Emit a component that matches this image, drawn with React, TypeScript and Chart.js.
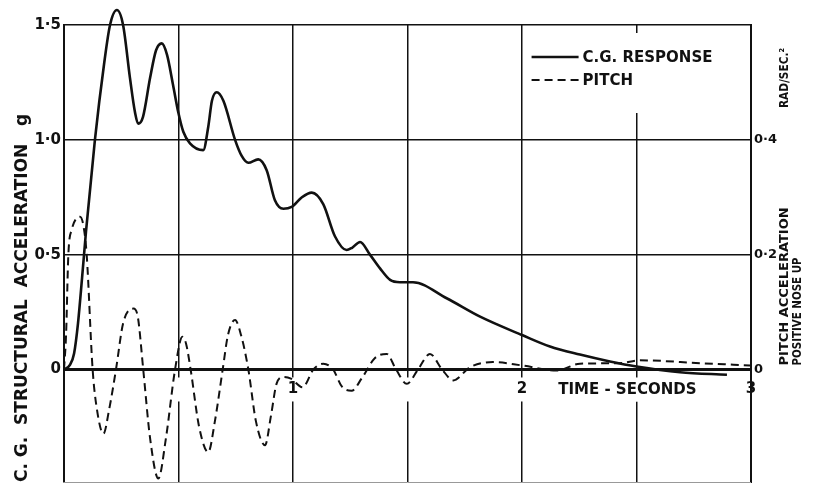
import { useEffect, useRef } from "react";
import { Chart, registerables } from "chart.js";

Chart.register(...registerables);

// C.G. structural acceleration (g) against time (s)
const cgTime = [
  0, 0.026, 0.044, 0.061, 0.079, 0.096, 0.135, 0.175, 0.201, 0.231, 0.258, 0.288, 0.31, 0.324,
  0.345, 0.376, 0.402, 0.427, 0.45, 0.476, 0.499, 0.521, 0.55, 0.608, 0.63, 0.646, 0.667, 0.696,
  0.747, 0.776, 0.805, 0.848, 0.885, 0.921, 0.958, 0.994, 1.039, 1.082, 1.132, 1.183, 1.234,
  1.258, 1.293, 1.336, 1.38, 1.424, 1.467, 1.524, 1.671, 1.817, 2.0, 2.122, 2.253, 2.384, 2.5,
  2.69, 2.895,
];
const cgAccel = [
  0, 0.02, 0.07, 0.2, 0.4, 0.6, 1.0, 1.33, 1.5, 1.565, 1.5, 1.27, 1.12, 1.07,
  1.1, 1.27, 1.39, 1.42, 1.37, 1.24, 1.12, 1.035, 0.985, 0.955, 1.057, 1.17, 1.207, 1.17,
  1.0, 0.93, 0.9, 0.915, 0.868, 0.737, 0.7, 0.708, 0.75, 0.77, 0.72, 0.58, 0.52,
  0.53, 0.555, 0.5, 0.44, 0.39, 0.38, 0.38, 0.31, 0.23, 0.15, 0.1, 0.065, 0.035, 0.013,
  -0.012, -0.023,
];

// Pitch acceleration (rad/sec²) against time (s)
const pitchTime = [
  0, 0.009, 0.019, 0.035, 0.052, 0.07, 0.085, 0.099, 0.125, 0.144, 0.172, 0.197, 0.227, 0.258,
  0.303, 0.323, 0.346, 0.376, 0.412, 0.445, 0.485, 0.517, 0.533, 0.553, 0.59, 0.63, 0.659,
  0.693, 0.716, 0.747, 0.773, 0.805, 0.838, 0.878, 0.904, 0.928, 0.957, 0.991, 1.042, 1.089,
  1.132, 1.175, 1.214, 1.256, 1.301, 1.358, 1.409, 1.45, 1.497, 1.546, 1.598, 1.651, 1.7,
  1.773, 1.873, 2.0, 2.151, 2.253, 2.428, 2.515, 2.777, 2.996,
];
const pitchAccel = [
  0, 0.06, 0.2, 0.245, 0.262, 0.266, 0.25, 0.2, 0.0, -0.07, -0.112, -0.07, 0.0, 0.08,
  0.106, 0.09, 0.0, -0.12, -0.19, -0.12, 0.0, 0.057, 0.045, 0.0, -0.1, -0.144, -0.09,
  0.0, 0.06, 0.086, 0.06, 0.0, -0.09, -0.132, -0.08, -0.025, -0.013, -0.016, -0.031, 0.0,
  0.01, 0.0, -0.03, -0.037, -0.015, 0.02, 0.027, 0.0, -0.025, 0.0, 0.027, 0.0, -0.019,
  0.004, 0.013, 0.007, -0.002, 0.01, 0.011, 0.016, 0.011, 0.007,
];

// Axis ticks and their lettering
const accelTicks = [0, 0.5, 1.0, 1.5];
const accelTickLabels = ["0", "0·5", "1·0", "1·5"];
const pitchTicks = [0, 0.2, 0.4];
const pitchTickLabels = ["0", "0·2", "0·4"];
const timeTicks = [1, 2, 3];
const timeTickLabels = ["1", "2", "3"];

const ACCEL_MIN = -0.49;
const ACCEL_MAX = 1.5;
const PITCH_PER_G = 0.4; // 0·2 rad/sec² on the right sits level with 0·5 g on the left

const FONT = "'DejaVu Sans', sans-serif";
const INK = "#111";

const toPoints = (xs: number[], ys: number[]) => xs.map((x, i) => ({ x, y: ys[i] }));

// fixed-width vertical axes, with no extra room reserved for end labels
const fixVertical = (s: any) => {
  s.width = 64;
  s.paddingTop = 0;
  s.paddingBottom = 0;
};

const lettering = {
  id: "lettering",
  beforeDatasetsDraw(chart: any) {
    const { ctx, chartArea, scales } = chart;
    const xs = scales.x;
    const ys = scales.y;
    ctx.save();

    // "TIME - SECONDS" on the time axis between the 2 and 3 second marks
    ctx.font = `bold 15px ${FONT}`;
    ctx.textBaseline = "middle";
    ctx.textAlign = "center";
    const tx = xs.getPixelForValue(2.46);
    const ty = ys.getPixelForValue(0) + 21;
    const label = "TIME - SECONDS";
    const w = ctx.measureText(label).width;
    ctx.fillStyle = "#fff";
    ctx.fillRect(tx - w / 2 - 4, ty - 11, w + 8, 22);
    ctx.fillStyle = INK;
    ctx.fillText(label, tx, ty);

    // legend box in the upper right of the grid
    const lx = xs.getPixelForValue(2.02);
    const ly = chartArea.top + 32;
    ctx.fillStyle = "#fff";
    ctx.fillRect(lx + 2, chartArea.top + 8, 200, 80);
    ctx.font = `bold 15px ${FONT}`;
    ctx.textAlign = "left";
    chart.data.datasets.forEach((ds: any, i: number) => {
      const y = ly + i * 23;
      ctx.strokeStyle = INK;
      ctx.lineWidth = ds.borderWidth;
      ctx.setLineDash(ds.borderDash || []);
      ctx.beginPath();
      ctx.moveTo(lx + 5, y);
      ctx.lineTo(lx + 52, y);
      ctx.stroke();
      ctx.setLineDash([]);
      ctx.fillStyle = INK;
      ctx.fillText(ds.label, lx + 56, y + 1);
    });
    ctx.restore();
  },
  afterDraw(chart: any) {
    const { ctx, chartArea, scales } = chart;
    const zeroY = scales.y.getPixelForValue(0);
    ctx.save();
    ctx.fillStyle = INK;
    ctx.textBaseline = "middle";

    // right-hand axis title, read upwards
    const drawUp = (
      text: string,
      x: number,
      y: number,
      align: CanvasTextAlign,
      size: number,
      maxLen: number
    ) => {
      ctx.save();
      ctx.translate(x, y);
      ctx.rotate(-Math.PI / 2);
      ctx.font = `bold ${size}px ${FONT}`;
      ctx.textAlign = align;
      ctx.fillText(text, 0, 0, maxLen);
      ctx.restore();
    };
    drawUp("PITCH ACCELERATION", chartArea.right + 34, zeroY - 4, "left", 13, 183);
    drawUp("RAD/SEC.²", chartArea.right + 34, chartArea.top + 23, "right", 12, 60);
    drawUp("POSITIVE NOSE UP", chartArea.right + 47, zeroY - 4, "left", 12, 108);

    // faint lower edge of the grid
    ctx.strokeStyle = "#999";
    ctx.lineWidth = 1;
    ctx.beginPath();
    ctx.moveTo(chartArea.left, chartArea.bottom + 0.5);
    ctx.lineTo(chartArea.right, chartArea.bottom + 0.5);
    ctx.stroke();
    ctx.restore();
  },
};

export default function App() {
  const canvasRef = useRef<HTMLCanvasElement | null>(null);

  useEffect(() => {
    const canvas = canvasRef.current;
    if (!canvas) return;

    const chart = new Chart(canvas, {
      type: "line",
      data: {
        datasets: [
          {
            label: "C.G. RESPONSE",
            data: toPoints(cgTime, cgAccel),
            yAxisID: "y",
            borderColor: INK,
            borderWidth: 2.6,
            pointRadius: 0,
            cubicInterpolationMode: "monotone",
            clip: false,
          },
          {
            label: "PITCH",
            data: toPoints(pitchTime, pitchAccel),
            yAxisID: "y1",
            borderColor: INK,
            borderWidth: 2,
            borderDash: [8, 5],
            pointRadius: 0,
            cubicInterpolationMode: "monotone",
            clip: false,
          },
        ],
      },
      options: {
        responsive: false,
        animation: false,
        events: [],
        layout: { padding: { top: 25, bottom: 3, left: 0, right: 0 } },
        plugins: { legend: { display: false }, tooltip: { enabled: false } },
        scales: {
          x: {
            type: "linear",
            position: { y: 0 },
            min: 0,
            max: 3,
            afterFit: (s: any) => {
              s.height = 0;
              s.paddingLeft = 0;
              s.paddingRight = 0;
            },
            grid: { color: INK, lineWidth: 1.5, drawTicks: false },
            border: { display: true, color: INK, width: 3 },
            afterBuildTicks: (s: any) => {
              s.ticks = [0, 0.5, 1, 1.5, 2, 2.5, 3].map((v) => ({ value: v }));
            },
            ticks: {
              autoSkip: false,
              maxRotation: 0,
              padding: 11,
              color: INK,
              font: { family: FONT, size: 15, weight: "bold" },
              showLabelBackdrop: true,
              backdropColor: "#fff",
              backdropPadding: { top: 3, bottom: 3, left: 3, right: 3 },
              callback: (v: any) => {
                const i = timeTicks.indexOf(Number(v));
                return i >= 0 ? timeTickLabels[i] : "";
              },
            },
          },
          y: {
            type: "linear",
            position: "left",
            min: ACCEL_MIN,
            max: ACCEL_MAX,
            afterFit: fixVertical,
            afterBuildTicks: (s: any) => {
              s.ticks = accelTicks.map((v) => ({ value: v }));
            },
            grid: { color: INK, lineWidth: 1.5, drawTicks: false },
            border: { display: true, color: INK, width: 2 },
            ticks: {
              padding: 3,
              color: INK,
              font: { family: FONT, size: 15, weight: "bold" },
              callback: (v: any) => {
                const i = accelTicks.indexOf(Number(v));
                return i >= 0 ? accelTickLabels[i] : "";
              },
            },
            title: {
              display: true,
              text: "C. G.  STRUCTURAL  ACCELERATION   g",
              align: "start",
              color: INK,
              font: { family: FONT, size: 17, weight: "bold" },
              padding: { top: 12, bottom: 0 },
            },
          },
          y1: {
            type: "linear",
            position: "right",
            min: ACCEL_MIN * PITCH_PER_G,
            max: ACCEL_MAX * PITCH_PER_G,
            afterFit: fixVertical,
            afterBuildTicks: (s: any) => {
              s.ticks = pitchTicks.map((v) => ({ value: v }));
            },
            grid: { display: false, drawTicks: false },
            border: { display: true, color: INK, width: 2 },
            ticks: {
              padding: 3,
              color: INK,
              font: { family: FONT, size: 13, weight: "bold" },
              callback: (v: any) => {
                const i = pitchTicks.findIndex((p) => Math.abs(p - Number(v)) < 1e-9);
                return i >= 0 ? pitchTickLabels[i] : "";
              },
            },
          },
        },
      },
      plugins: [lettering],
    });

    return () => chart.destroy();
  }, []);

  return (
    <div style={{ position: "fixed", left: 0, top: 0, width: 815, height: 485, background: "#fff" }}>
      <canvas ref={canvasRef} width={815} height={485} />
    </div>
  );
}
